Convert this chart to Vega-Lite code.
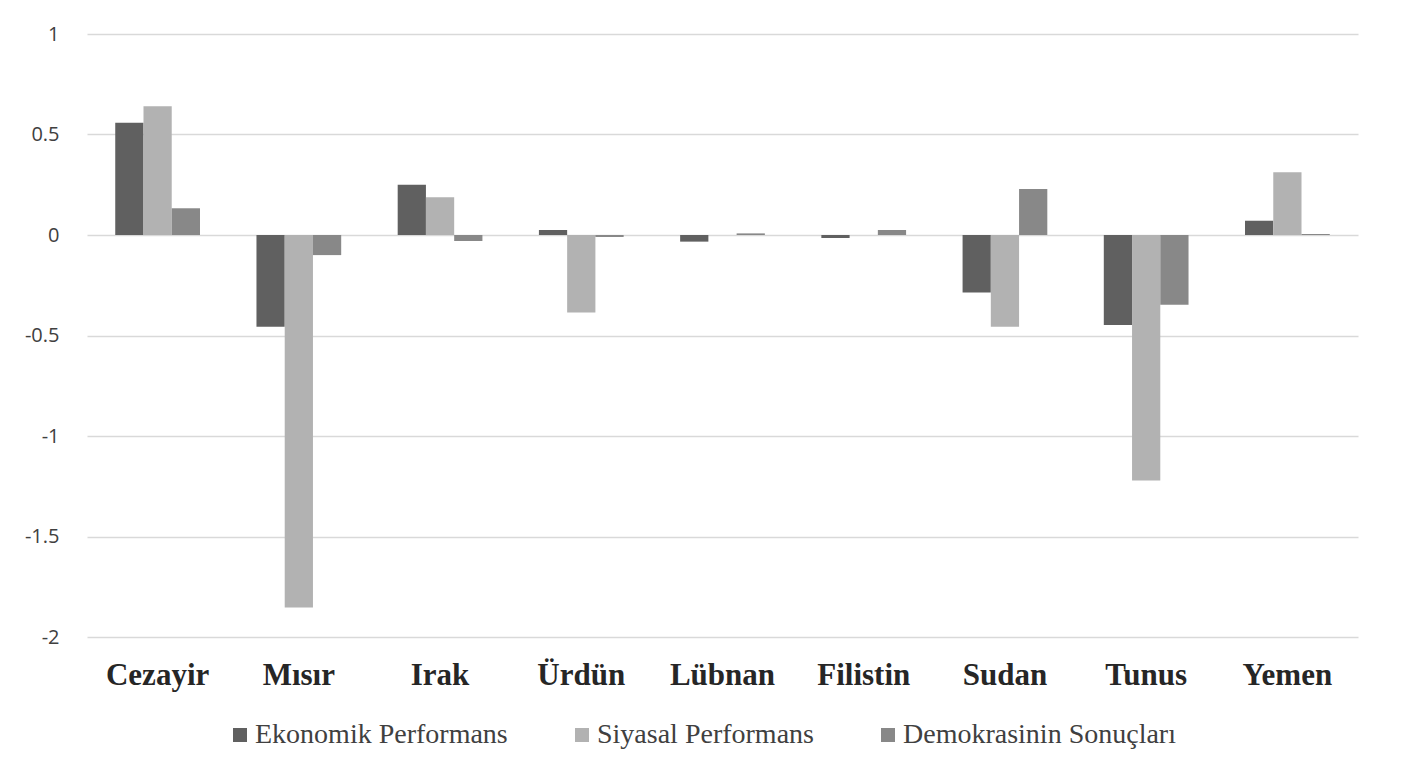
{
  "$schema": "https://vega.github.io/schema/vega-lite/v6.json",
  "width": 1271,
  "height": 603,
  "autosize": {"type": "none"},
  "padding": {"left": 87, "top": 34, "right": 43, "bottom": 132},
  "background": "#ffffff",
  "data": {
    "values": [
      {"ulke": "Cezayir", "seri": "Ekonomik Performans", "deger": 0.558},
      {"ulke": "Cezayir", "seri": "Siyasal Performans", "deger": 0.64},
      {"ulke": "Cezayir", "seri": "Demokrasinin Sonuçları", "deger": 0.133},
      {"ulke": "Mısır", "seri": "Ekonomik Performans", "deger": -0.457},
      {"ulke": "Mısır", "seri": "Siyasal Performans", "deger": -1.853},
      {"ulke": "Mısır", "seri": "Demokrasinin Sonuçları", "deger": -0.1},
      {"ulke": "Irak", "seri": "Ekonomik Performans", "deger": 0.25},
      {"ulke": "Irak", "seri": "Siyasal Performans", "deger": 0.188},
      {"ulke": "Irak", "seri": "Demokrasinin Sonuçları", "deger": -0.03},
      {"ulke": "Ürdün", "seri": "Ekonomik Performans", "deger": 0.025},
      {"ulke": "Ürdün", "seri": "Siyasal Performans", "deger": -0.385},
      {"ulke": "Ürdün", "seri": "Demokrasinin Sonuçları", "deger": -0.01},
      {"ulke": "Lübnan", "seri": "Ekonomik Performans", "deger": -0.033},
      {"ulke": "Lübnan", "seri": "Siyasal Performans", "deger": 0.0},
      {"ulke": "Lübnan", "seri": "Demokrasinin Sonuçları", "deger": 0.008},
      {"ulke": "Filistin", "seri": "Ekonomik Performans", "deger": -0.015},
      {"ulke": "Filistin", "seri": "Siyasal Performans", "deger": 0.0},
      {"ulke": "Filistin", "seri": "Demokrasinin Sonuçları", "deger": 0.025},
      {"ulke": "Sudan", "seri": "Ekonomik Performans", "deger": -0.286},
      {"ulke": "Sudan", "seri": "Siyasal Performans", "deger": -0.457},
      {"ulke": "Sudan", "seri": "Demokrasinin Sonuçları", "deger": 0.229},
      {"ulke": "Tunus", "seri": "Ekonomik Performans", "deger": -0.448},
      {"ulke": "Tunus", "seri": "Siyasal Performans", "deger": -1.221},
      {"ulke": "Tunus", "seri": "Demokrasinin Sonuçları", "deger": -0.347},
      {"ulke": "Yemen", "seri": "Ekonomik Performans", "deger": 0.071},
      {"ulke": "Yemen", "seri": "Siyasal Performans", "deger": 0.312},
      {"ulke": "Yemen", "seri": "Demokrasinin Sonuçları", "deger": 0.005}
    ]
  },
  "mark": {"type": "bar"},
  "encoding": {
    "x": {
      "field": "ulke",
      "type": "nominal",
      "sort": null,
      "scale": {"paddingInner": 0.4, "paddingOuter": 0.2},
      "axis": {
        "title": null,
        "labelAngle": 0,
        "domain": false,
        "ticks": false,
        "labelFont": "Liberation Serif",
        "labelFontWeight": "bold",
        "labelFontSize": 31,
        "labelColor": "#262626",
        "labelPadding": 23
      }
    },
    "xOffset": {
      "field": "seri",
      "type": "nominal",
      "sort": ["Ekonomik Performans", "Siyasal Performans", "Demokrasinin Sonuçları"],
      "scale": {"paddingInner": 0, "paddingOuter": 0}
    },
    "y": {
      "field": "deger",
      "type": "quantitative",
      "scale": {"domain": [-2, 1], "nice": false},
      "axis": {
        "title": null,
        "values": [-2, -1.5, -1, -0.5, 0, 0.5, 1],
        "labelExpr": "datum.value + ''",
        "domain": false,
        "ticks": false,
        "grid": true,
        "gridColor": "#d9d9d9",
        "gridWidth": 1.5,
        "labelFont": "Open Sans",
        "labelFontSize": 20,
        "labelColor": "#404040",
        "labelPadding": 28
      }
    },
    "color": {
      "field": "seri",
      "type": "nominal",
      "sort": ["Ekonomik Performans", "Siyasal Performans", "Demokrasinin Sonuçları"],
      "scale": {
        "domain": ["Ekonomik Performans", "Siyasal Performans", "Demokrasinin Sonuçları"],
        "range": ["#606060", "#b2b2b2", "#888888"]
      },
      "legend": {
        "title": null,
        "orient": "none",
        "legendX": 139,
        "legendY": 687,
        "direction": "horizontal",
        "symbolType": "square",
        "symbolSize": 196,
        "symbolStrokeWidth": 0,
        "labelFont": "Liberation Serif",
        "labelFontSize": 28,
        "labelColor": "#404040",
        "labelLimit": 0,
        "labelOffset": 1,
        "columnPadding": 60
      }
    }
  },
  "config": {
    "view": {"stroke": null},
    "axis": {"gridColor": "#d9d9d9"}
  }
}
